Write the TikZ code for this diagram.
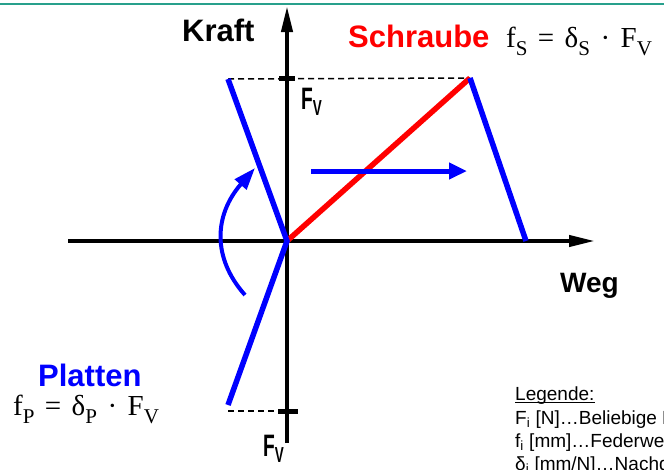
\documentclass[tikz,border=0pt]{standalone}
\usepackage{amsmath}
\usepackage{fontspec}
\setsansfont{Liberation Sans}
\newfontfamily\eqfont{Liberation Serif}
\usetikzlibrary{arrows.meta, positioning, calc}
\definecolor{topline}{RGB}{40,160,140}
\newcommand{\sbs}[1]{\raisebox{-0.28em}{\fontsize{21}{21}\selectfont #1}}
\newcommand{\gap}{\hspace{0.36em}}

\begin{document}
\begin{tikzpicture}[x=1pt, y=-1pt,
        axis/.style={line width=4pt, -{Triangle[length=26pt, width=11pt]}},
        spring/.style={line width=5.5pt},
        tick/.style={line width=5pt},
        guide/.style={line width=1.5pt, dash pattern=on 6pt off 4pt},
        lbl/.style={font=\sffamily\bfseries\fontsize{31}{34}\selectfont, inner sep=0pt, anchor=base west},
        eq/.style={font=\eqfont\fontsize{29}{32}\selectfont, inner sep=0pt, anchor=base west},
        leg/.style={font=\sffamily\fontsize{19}{23}\selectfont, anchor=base west, inner sep=0pt}
    ]
        \useasboundingbox (0,0) rectangle (664,469);
        \clip (0,0) rectangle (664,469);
        \draw[topline, line width=2.5pt] (0,4) -- (664,4);

        % Points of the diagram
        \coordinate (O) at (287,241);
        \coordinate (ytop) at (287,6);
        \coordinate (ybot) at (287,443);
        \coordinate (xl) at (68,241);
        \coordinate (xr) at (595,241);
        \coordinate (FVo) at (287,78);
        \coordinate (FVu) at (287,411);
        \coordinate (S) at (470,78);
        \coordinate (Po) at (228,79);
        \coordinate (Pu) at (228,405);
        \coordinate (W) at (526,241);

        % Axes
        \draw[axis] (ybot) -- (ytop);
        \draw[axis] (xl) -- (xr);
        \draw[tick] ($(FVo)+(-8,0)$) -- ($(FVo)+(8,0)$);
        \draw[tick] ($(FVu)+(-9,0)$) -- ($(FVu)+(11,0)$);

        % Guide lines
        \draw[guide] (Po) -- (S);
        \draw[guide] (FVu -| Pu) -- (FVu);

        % Springs
        \draw[spring, red] (O) -- (S);
        \draw[spring, blue] (S) -- (W);
        \draw[spring, blue] (Po) -- (O) -- (Pu);

        % Shift arrows
        \draw[blue, line width=5pt, -{Triangle[length=18pt, width=16pt]}] (311,171) -- (467,171);
        \draw[blue, line width=4pt, -{Triangle[length=22pt, width=15pt]}]
            (245,295) .. controls (212,258) and (214,215) .. (255,168);

        % Labels
        \node[lbl] (kraft) at (182,41) {Kraft};
        \node[lbl, font=\sffamily\bfseries\fontsize{28}{32}\selectfont] (weg) at (560,292) {Weg};
        \node[lbl, anchor=north west] (fvo) at (301,88) {\scalebox{0.62}[1]{F\textsubscript{V}}};
        \node[lbl, anchor=north west] (fvu) at (263,435) {\scalebox{0.62}[1]{F\textsubscript{V}}};
        \node[lbl, red] (schraube) at (348,47) {Schraube};
        \node[eq] (eqs) at (506,47) {f\sbs{S}\gap=\gap δ\sbs{S}\gap·\gap F\sbs{V}};
        \node[lbl, blue] (platten) at (38,386) {Platten};
        \node[eq] (eqp) at (13,415) {f\sbs{P}\gap=\gap δ\sbs{P}\gap·\gap F\sbs{V}};

        % Legend
        \node[leg] (leg0) at (515,400) {Legende:};
        \draw[line width=1pt] ($(leg0.base west)+(0,2.5)$) -- ($(leg0.base east)+(0,2.5)$);
        \node[leg] (leg1) at (515,424) {F\textsubscript{i} [N]…Beliebige Kraft};
        \node[leg] (leg2) at (515,447) {f\textsubscript{i} [mm]…Federweg};
        \node[leg] (leg3) at (515,470) {δ\textsubscript{i} [mm/N]…Nachgiebigkeit};
    \end{tikzpicture}
\end{document}
